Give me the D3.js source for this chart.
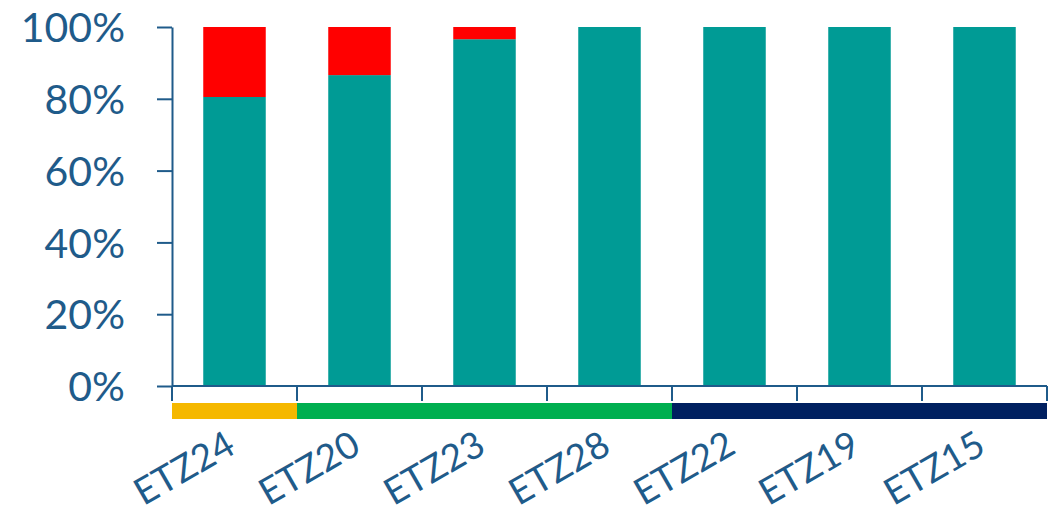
<!DOCTYPE html>
<html>
<head>
<meta charset="utf-8">
<script src="https://cdn.jsdelivr.net/npm/d3@7"></script>
<style>
  html, body { margin: 0; padding: 0; background: #fff; }
  svg { display: block; }
  text { font-family: Lato, "Open Sans", sans-serif; }
</style>
</head>
<body>
<svg id="chart" width="1051" height="516"></svg>
<script>
// Units, in chart order
const categories = ["ETZ24", "ETZ20", "ETZ23", "ETZ28", "ETZ22", "ETZ19", "ETZ15"];
// Share of each unit (percent) in the two stacked segments
const tealShare = [80.5, 86.6, 96.6, 100, 100, 100, 100];
const redShare  = [19.5, 13.4, 3.4, 0, 0, 0, 0];
// Y axis tick values
const yTicks = [0, 20, 40, 60, 80, 100];
// Group strip under the axis: first and last unit of each group
const groups = [
  { from: "ETZ24", to: "ETZ24", color: "#F5B800" },
  { from: "ETZ20", to: "ETZ28", color: "#00AF50" },
  { from: "ETZ22", to: "ETZ15", color: "#002060" }
];

const axisColor = "#1F5B8A";
const svg = d3.select("#chart");
const margin = { left: 172, right: 4, top: 27, bottom: 130 };
const W = 1051, H = 516;

const x = d3.scaleBand()
  .domain(categories)
  .range([margin.left, W - margin.right])
  .paddingInner(0).paddingOuter(0);
const y = d3.scaleLinear().domain([0, 100]).range([H - margin.bottom, margin.top]);

const barW = x.bandwidth() * 0.5;

const rows = categories.map((c, i) => ({ cat: c, teal: tealShare[i], red: redShare[i] }));
const stack = d3.stack().keys(["teal", "red"])(rows);
const colors = { teal: "#009B95", red: "#FF0000" };

svg.append("g").selectAll("g")
  .data(stack)
  .join("g")
  .attr("fill", d => colors[d.key])
  .selectAll("rect")
  .data(d => d)
  .join("rect")
  .attr("x", d => x(d.data.cat) + (x.bandwidth() - barW) / 2)
  .attr("width", barW)
  .attr("y", d => y(d[1]))
  .attr("height", d => y(d[0]) - y(d[1]));

// Y axis
const yAxis = svg.append("g")
  .attr("transform", `translate(${margin.left},0)`)
  .call(d3.axisLeft(y).tickValues(yTicks).tickFormat(d => d + "%").tickSize(15).tickSizeOuter(0));
yAxis.select(".domain").attr("stroke", axisColor).attr("stroke-width", 2);
yAxis.selectAll(".tick line").attr("stroke", axisColor).attr("stroke-width", 2);
yAxis.selectAll(".tick text")
  .attr("fill", axisColor)
  .attr("font-size", 41)
  .attr("x", -47)
  .attr("dy", "0.36em");

// X axis baseline with boundary ticks
const y0 = y(0);
const bounds = categories.map(c => x(c)).concat([x.range()[1]]);
svg.append("line")
  .attr("x1", margin.left).attr("x2", x.range()[1])
  .attr("y1", y0).attr("y2", y0)
  .attr("stroke", axisColor).attr("stroke-width", 2);
svg.append("g").selectAll("line")
  .data(bounds)
  .join("line")
  .attr("x1", d => d).attr("x2", d => d)
  .attr("y1", y0).attr("y2", y0 + 15)
  .attr("stroke", axisColor).attr("stroke-width", 2);

// Group colour strip
svg.append("g").selectAll("rect")
  .data(groups)
  .join("rect")
  .attr("x", d => x(d.from))
  .attr("width", d => x(d.to) + x.bandwidth() - x(d.from))
  .attr("y", y0 + 17)
  .attr("height", 16)
  .attr("fill", d => d.color);

// Rotated category labels
svg.append("g").selectAll("text")
  .data(categories)
  .join("text")
  .attr("text-anchor", "end")
  .attr("font-size", 37)
  .attr("fill", axisColor)
  .attr("transform", d => `translate(${x(d) + x.bandwidth() / 2 + 3},${y0 + 66}) rotate(-30)`)
  .text(d => d);
</script>
</body>
</html>
